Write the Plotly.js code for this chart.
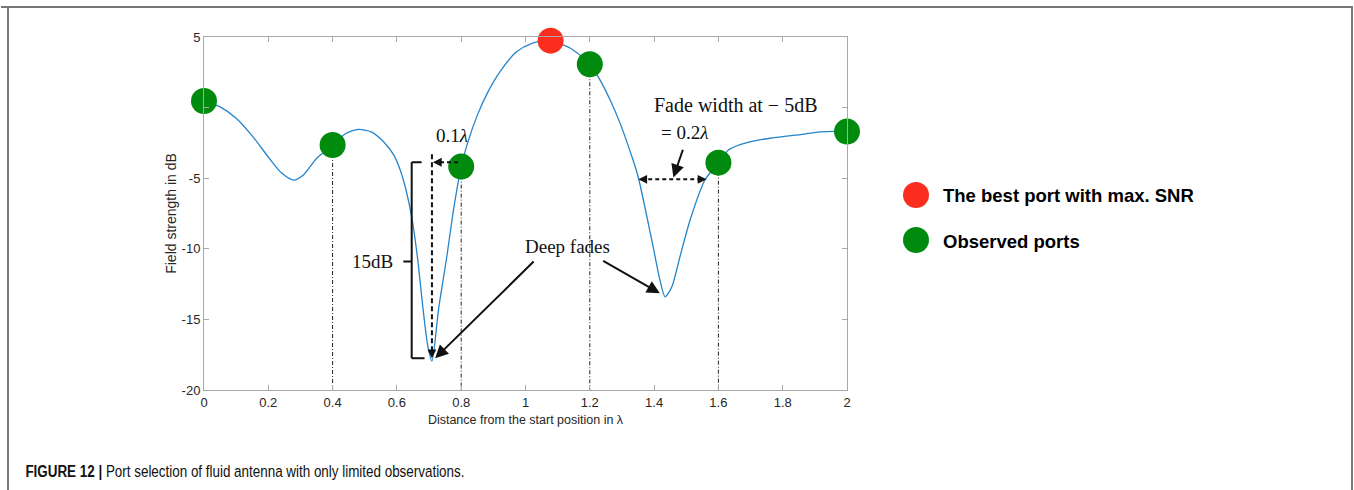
<!DOCTYPE html>
<html>
<head>
<meta charset="utf-8">
<script src="https://cdn.plot.ly/plotly-3.0.1.min.js"></script>
<style>
  html, body { margin: 0; padding: 0; background: #ffffff; }
  #chart { width: 1354px; height: 490px; }
</style>
</head>
<body>
<div id="chart"></div>
<script>
// ---------------- DATA ----------------
// Field strength curve (dB) versus distance from start position (in wavelengths)
const distance = [0.00, 0.05, 0.10, 0.15, 0.20, 0.24, 0.278, 0.31, 0.35, 0.40, 0.44, 0.48, 0.52, 0.56, 0.59, 0.61, 0.628, 0.646, 0.665, 0.682, 0.697, 0.709, 0.73, 0.755, 0.775, 0.80, 0.82, 0.85, 0.884, 0.921, 0.972, 1.02, 1.075, 1.14, 1.20, 1.232, 1.263, 1.294, 1.335, 1.351, 1.392, 1.418, 1.434, 1.455, 1.48, 1.512, 1.558, 1.60, 1.631, 1.67, 1.709, 1.76, 1.812, 1.86, 1.916, 1.96, 2.00];
const fieldDb  = [0.47, 0.05, -0.75, -2.00, -3.50, -4.60, -5.13, -4.75, -3.60, -2.65, -1.85, -1.54, -1.72, -2.45, -3.35, -4.40, -5.80, -7.73, -10.8, -14.4, -17.0, -17.95, -14.2, -10.6, -7.40, -4.18, -2.50, -0.55, 1.15, 2.55, 3.95, 4.55, 4.76, 4.20, 3.07, 1.95, 0.55, -1.10, -3.75, -4.95, -9.30, -12.2, -13.4, -12.7, -10.6, -7.96, -5.13, -3.90, -3.00, -2.60, -2.37, -2.17, -2.02, -1.90, -1.72, -1.68, -1.70];

// Observed ports and the best port
const observedX  = [0, 0.4, 0.8, 1.2, 1.6, 2.0];
const observedDb = [0.47, -2.65, -4.18, 3.07, -3.90, -1.70];
const bestX  = [1.078];
const bestDb = [4.74];

// Axis ticks
const xTicks = [0, 0.2, 0.4, 0.6, 0.8, 1, 1.2, 1.4, 1.6, 1.8, 2];
const xTickText = ['0', '0.2', '0.4', '0.6', '0.8', '1', '1.2', '1.4', '1.6', '1.8', '2'];
const yTicks = [-20, -15, -10, -5, 0, 5];
const yTickText = ['-20', '-15', '-10', '-5', '', '5'];

// Legend / caption text
const bestName = 'The best port with max. SNR';
const observedName = 'Observed ports';
const captionBold = 'FIGURE 12 |';
const captionText = 'Port selection of fluid antenna with only limited observations.';

// ---------------- LAYOUT GEOMETRY ----------------
const W = 1354, H = 490;
const L = 204, R = 847, T = 37, B = 390;
const px2x = px => (px - L) / (R - L);
const px2y = py => (B - py) / (B - T);
const yMin = -20;

// Drop lines from inner observed ports to the x axis
const dropX = [], dropY = [];
for (let i = 1; i < observedX.length - 1; i++) {
  dropX.push(observedX[i], observedX[i], null);
  dropY.push(observedDb[i], yMin, null);
}

// Deep fade minima derived from the curve
function minIn(a, b) {
  let bi = -1;
  for (let i = 0; i < distance.length; i++) {
    if (distance[i] >= a && distance[i] <= b && (bi < 0 || fieldDb[i] < fieldDb[bi])) bi = i;
  }
  return { x: distance[bi], y: fieldDb[bi] };
}
const fade1 = minIn(0.6, 0.8);
const fade2 = minIn(1.3, 1.55);

const traces = [
  {
    x: distance, y: fieldDb, type: 'scatter', mode: 'lines',
    line: { color: '#2384cb', width: 1.3, shape: 'spline', smoothing: 0.7 },
    hoverinfo: 'skip', showlegend: false
  },
  {
    x: dropX, y: dropY, type: 'scatter', mode: 'lines',
    line: { color: '#222222', width: 1, dash: '4px,2px,1px,2px' },
    hoverinfo: 'skip', showlegend: false
  },
  {
    x: observedX, y: observedDb, type: 'scatter', mode: 'markers', name: observedName,
    marker: { color: '#008a0e', size: 26, line: { width: 0 } },
    cliponaxis: false, showlegend: false
  },
  {
    x: bestX, y: bestDb, type: 'scatter', mode: 'markers', name: bestName,
    marker: { color: '#fb2d1f', size: 26, line: { width: 0 } },
    cliponaxis: false, showlegend: false
  }
];

const serif = { family: 'Liberation Serif, Times New Roman, serif', size: 19, color: '#111111' };
const blk = '#111111';

const shapes = [
  // figure frame
  { type: 'line', xref: 'paper', yref: 'paper', x0: px2x(1), x1: px2x(1353), y0: px2y(7), y1: px2y(7), line: { color: '#777777', width: 2 } },
  { type: 'line', xref: 'paper', yref: 'paper', x0: px2x(8), x1: px2x(8), y0: px2y(6), y1: px2y(495), line: { color: '#777777', width: 2 } },
  { type: 'line', xref: 'paper', yref: 'paper', x0: px2x(1352), x1: px2x(1352), y0: px2y(6), y1: px2y(495), line: { color: '#777777', width: 2 } },
  // vertical dashed line at the first deep fade
  { type: 'line', xref: 'x', yref: 'y', x0: fade1.x, x1: fade1.x, y0: -3.3, y1: fade1.y + 0.5, line: { color: blk, width: 2, dash: '5px,3px' } },
  // horizontal dashed (0.1 lambda) from port 0.8 to fade line
  { type: 'line', xref: 'x', yref: 'y', x0: observedX[2] - 0.01, x1: fade1.x + 0.02, y0: -3.87, y1: -3.87, line: { color: blk, width: 2, dash: '4px,3px' } },
  // 15 dB bracket
  { type: 'line', xref: 'x', yref: 'y', x0: 0.646, x1: 0.646, y0: -3.87, y1: -17.75, line: { color: blk, width: 2 } },
  { type: 'line', xref: 'x', yref: 'y', x0: 0.646, x1: 0.677, y0: -3.87, y1: -3.87, line: { color: blk, width: 2 } },
  { type: 'line', xref: 'x', yref: 'y', x0: 0.646, x1: 0.686, y0: -17.75, y1: -17.75, line: { color: blk, width: 2 } },
  { type: 'line', xref: 'x', yref: 'y', x0: 0.620, x1: 0.646, y0: -10.9, y1: -10.9, line: { color: blk, width: 2 } },
  // fade width dashed line at -5 dB
  { type: 'line', xref: 'x', yref: 'y', x0: 1.36, x1: 1.555, y0: -5.08, y1: -5.08, line: { color: blk, width: 2, dash: '4px,3px' } },
  // legend markers
  { type: 'circle', xref: 'paper', yref: 'paper', xsizemode: 'pixel', ysizemode: 'pixel', xanchor: px2x(916), yanchor: px2y(195), x0: -13, x1: 13, y0: -13, y1: 13, fillcolor: '#fb2d1f', line: { width: 0 } },
  { type: 'circle', xref: 'paper', yref: 'paper', xsizemode: 'pixel', ysizemode: 'pixel', xanchor: px2x(916), yanchor: px2y(240), x0: -13, x1: 13, y0: -13, y1: 13, fillcolor: '#008a0e', line: { width: 0 } }
];

const annotations = [
  { x: 0.771, y: -2.0, xref: 'x', yref: 'y', text: '0.1<i>λ</i>', showarrow: false, font: serif },
  { x: 0.525, y: -10.9, xref: 'x', yref: 'y', text: '15dB', showarrow: false, font: serif },
  { x: 1.13, y: -9.85, xref: 'x', yref: 'y', text: 'Deep fades', showarrow: false, font: serif },
  { x: 1.656, y: 0.18, xref: 'x', yref: 'y', text: 'Fade width at − 5dB', showarrow: false, font: { family: serif.family, size: 20, color: serif.color } },
  { x: 1.494, y: -1.75, xref: 'x', yref: 'y', text: '= 0.2<i>λ</i>', showarrow: false, font: serif },
  // deep fade arrows
  { x: fade1.x + 0.01, y: fade1.y + 0.2, ax: 1.03, ay: -10.8, xref: 'x', yref: 'y', axref: 'x', ayref: 'y', text: '', showarrow: true, arrowhead: 2, arrowsize: 1.3, arrowwidth: 2, arrowcolor: blk },
  { x: fade2.x - 0.016, y: fade2.y + 0.25, ax: 1.237, ay: -10.8, xref: 'x', yref: 'y', axref: 'x', ayref: 'y', text: '', showarrow: true, arrowhead: 2, arrowsize: 1.3, arrowwidth: 2, arrowcolor: blk },
  // fade width pointer
  { x: 1.46, y: -4.95, ax: 1.491, ay: -2.88, xref: 'x', yref: 'y', axref: 'x', ayref: 'y', text: '', showarrow: true, arrowhead: 2, arrowsize: 1.3, arrowwidth: 2, arrowcolor: blk },
  // dashed arrow heads
  { x: fade1.x + 0.003, y: -3.87, ax: fade1.x + 0.03, ay: -3.87, xref: 'x', yref: 'y', axref: 'x', ayref: 'y', text: '', showarrow: true, arrowhead: 2, arrowsize: 1.1, arrowwidth: 1.6, arrowcolor: blk },
  { x: fade1.x, y: fade1.y + 0.2, ax: fade1.x, ay: fade1.y + 1.0, xref: 'x', yref: 'y', axref: 'x', ayref: 'y', text: '', showarrow: true, arrowhead: 2, arrowsize: 1.1, arrowwidth: 1.6, arrowcolor: blk },
  { x: 1.351, y: -5.08, ax: 1.38, ay: -5.08, xref: 'x', yref: 'y', axref: 'x', ayref: 'y', text: '', showarrow: true, arrowhead: 2, arrowsize: 1.1, arrowwidth: 1.6, arrowcolor: blk },
  { x: 1.563, y: -5.08, ax: 1.535, ay: -5.08, xref: 'x', yref: 'y', axref: 'x', ayref: 'y', text: '', showarrow: true, arrowhead: 2, arrowsize: 1.1, arrowwidth: 1.6, arrowcolor: blk },
  // legend text
  { x: px2x(941), y: px2y(196), xref: 'paper', yref: 'paper', xanchor: 'left', yanchor: 'middle', text: '<b>' + bestName + '</b>', showarrow: false, font: { family: 'Liberation Sans, Arial, sans-serif', size: 18.5, color: '#000000' } },
  { x: px2x(941), y: px2y(241), xref: 'paper', yref: 'paper', xanchor: 'left', yanchor: 'middle', text: '<b>' + observedName + '</b>', showarrow: false, font: { family: 'Liberation Sans, Arial, sans-serif', size: 18.5, color: '#000000' } },
  // caption
  { x: px2x(23), y: px2y(471), xref: 'paper', yref: 'paper', xanchor: 'left', yanchor: 'middle', text: '<b>' + captionBold + '</b> ' + captionText, showarrow: false, font: { family: 'Liberation Sans, Arial, sans-serif', size: 17, color: '#111111' }, name: 'caption' }
];

const axisCommon = {
  showgrid: false, zeroline: false, showline: true, mirror: 'ticks',
  linecolor: '#a8a8a8', linewidth: 1, ticks: 'inside', ticklen: 5, tickcolor: '#a8a8a8', tickwidth: 1,
  tickfont: { family: 'Liberation Sans, Arial, sans-serif', size: 13, color: '#262626' }
};

const layout = {
  width: W, height: H,
  margin: { l: L, r: W - R, t: T, b: H - B, pad: 0 },
  paper_bgcolor: '#ffffff', plot_bgcolor: '#ffffff',
  showlegend: false,
  xaxis: Object.assign({}, axisCommon, {
    range: [0, 2], tickvals: xTicks, ticktext: xTickText,
    title: { text: 'Distance from the start position in λ', standoff: 6, font: { family: 'Liberation Sans, Arial, sans-serif', size: 12.5, color: '#262626' } }
  }),
  yaxis: Object.assign({}, axisCommon, {
    range: [-20, 5], tickvals: yTicks, ticktext: yTickText,
    title: { text: 'Field strength in dB', standoff: 1, font: { family: 'Liberation Sans, Arial, sans-serif', size: 14, color: '#262626' } }
  }),
  shapes: shapes,
  annotations: annotations
};

Plotly.newPlot('chart', traces, layout, { displayModeBar: false, staticPlot: true }).then(function (gd) {
  // condensed caption typeface: compress the caption text horizontally
  const nodes = gd.querySelectorAll('.annotation-text');
  nodes.forEach(function (t) {
    if (t.textContent.indexOf('FIGURE') === 0) {
      t.style.transformBox = 'fill-box';
      t.style.transformOrigin = 'left center';
      t.style.transform = 'scaleX(0.79)';
    }
  });
});
</script>
</body>
</html>
